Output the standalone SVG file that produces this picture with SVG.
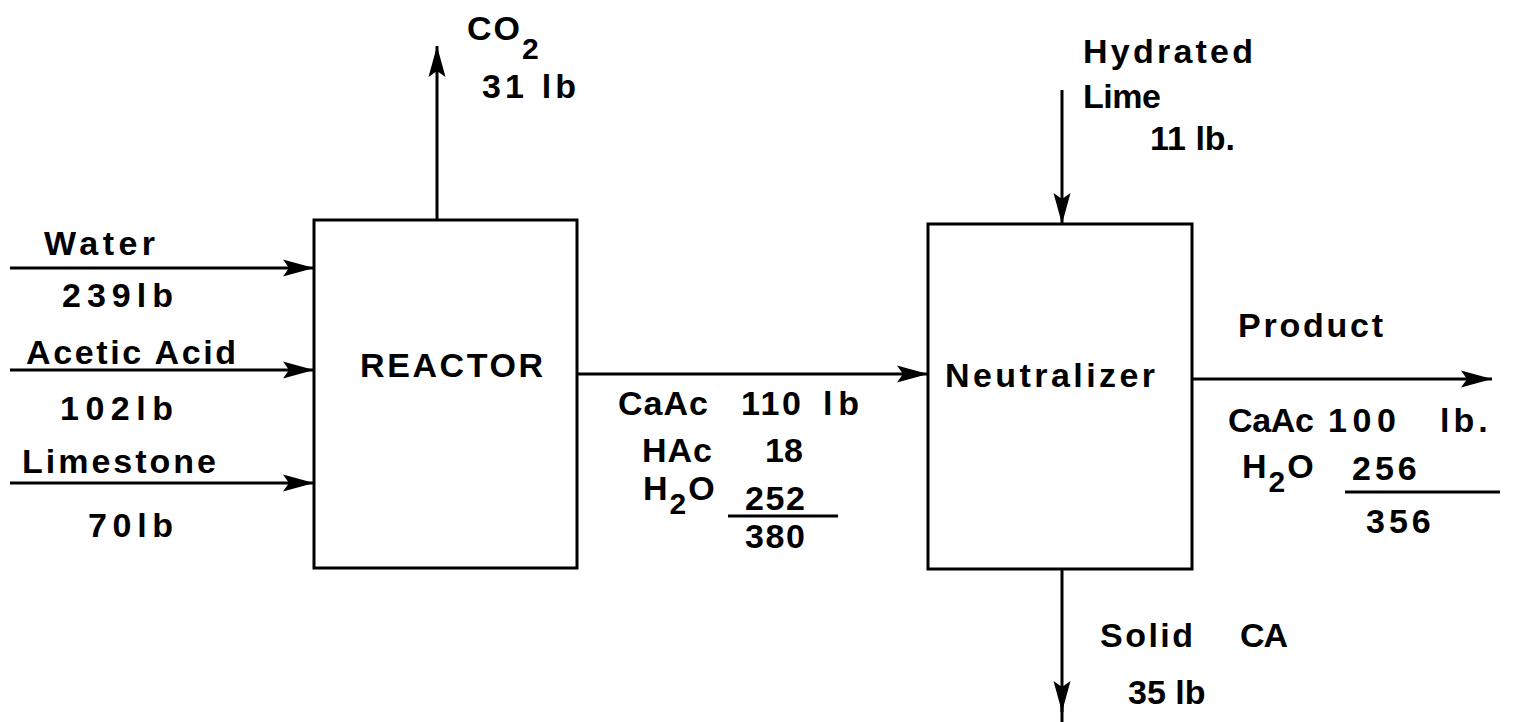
<svg xmlns="http://www.w3.org/2000/svg" width="1515" height="722" viewBox="0 0 1515 722">
<style>
text{font-family:"Liberation Sans",Arial,sans-serif;font-weight:bold;font-size:34px;fill:#000;letter-spacing:2px}
.box{fill:#fff;stroke:#000;stroke-width:3}
.ln{stroke:#000;stroke-width:3;fill:none}
.ar{stroke:#000;stroke-width:3;fill:none;marker-end:url(#ah)}
.sub{font-size:30px}
.tight{letter-spacing:0}
.wide{letter-spacing:4px}
</style>
<defs>
<marker id="ah" markerUnits="userSpaceOnUse" markerWidth="32" markerHeight="20" refX="31" refY="10" orient="auto">
<path d="M0,1.5 L31,10 L0,18.5 L6,10 Z" fill="#000"/>
</marker>
</defs>
<rect width="1515" height="722" fill="#fff"/>
<g id="connectors">
<line class="ar" x1="437" y1="220" x2="437" y2="46"/>
<line class="ar" x1="10" y1="268" x2="314" y2="268"/>
<line class="ar" x1="10" y1="370" x2="314" y2="370"/>
<line class="ar" x1="10" y1="483" x2="314" y2="483"/>
<line class="ar" x1="578" y1="374" x2="928" y2="374"/>
<line class="ar" x1="1062" y1="90" x2="1062" y2="224"/>
<line class="ar" x1="1192" y1="379" x2="1492" y2="379"/>
<line class="ar" x1="1062" y1="569" x2="1062" y2="712"/>
<line class="ln" x1="1062" y1="700" x2="1062" y2="722"/>
</g>
<g id="reactor">
<rect class="box" x="314" y="220" width="263" height="348"/>
<text x="360" y="377" textLength="185" lengthAdjust="spacing">REACTOR</text>
</g>
<g id="neutralizer">
<rect class="box" x="928" y="224" width="264" height="345"/>
<text x="945" y="387" textLength="212" lengthAdjust="spacing">Neutralizer</text>
</g>
<g id="co2-stream">
<text x="467" y="40">CO<tspan class="sub" dy="19">2</tspan></text>
<text x="482" y="98" textLength="96" lengthAdjust="spacing">31 lb</text>
</g>
<g id="water-stream">
<text x="44" y="255" textLength="113" lengthAdjust="spacing">Water</text>
<text x="62" y="307" textLength="113" lengthAdjust="spacing">239lb</text>
</g>
<g id="acid-stream">
<text x="26" y="364" textLength="212" lengthAdjust="spacing">Acetic Acid</text>
<text x="60" y="420" textLength="115" lengthAdjust="spacing">102lb</text>
</g>
<g id="limestone-stream">
<text x="22" y="473" textLength="196" lengthAdjust="spacing">Limestone</text>
<text x="88" y="537" textLength="87" lengthAdjust="spacing">70lb</text>
</g>
<g id="intermediate-stream">
<text x="618" y="415" textLength="92" lengthAdjust="spacing">CaAc</text>
<text x="741" y="415" textLength="62" lengthAdjust="spacing">110</text>
<text x="823" y="415" textLength="38" lengthAdjust="spacing">lb</text>
<text x="642" y="462" textLength="72" lengthAdjust="spacing">HAc</text>
<text x="765" y="462" textLength="40" lengthAdjust="spacing">18</text>
<text x="643" y="500">H<tspan class="sub" dy="14">2</tspan><tspan dy="-14">O</tspan></text>
<text x="745" y="510" textLength="62" lengthAdjust="spacing">252</text>
<line class="ln" x1="728" y1="516" x2="838" y2="516"/>
<text x="745" y="548" textLength="62" lengthAdjust="spacing">380</text>
</g>
<g id="lime-stream">
<text x="1083" y="63" textLength="172" lengthAdjust="spacing">Hydrated</text>
<text x="1083" y="108" textLength="80" lengthAdjust="spacing">Lime</text>
<text class="tight" x="1150" y="150">11 lb.</text>
</g>
<g id="product-stream">
<text x="1238" y="337" textLength="147" lengthAdjust="spacing">Product</text>
<text x="1228" y="432" textLength="88" lengthAdjust="spacing">CaAc</text>
<text x="1328" y="432" textLength="70" lengthAdjust="spacing">100</text>
<text class="wide" x="1440" y="432">lb.</text>
<text x="1242" y="478">H<tspan class="sub" dy="14">2</tspan><tspan dy="-14">O</tspan></text>
<text class="wide" x="1352" y="480">256</text>
<line class="ln" x1="1345" y1="492" x2="1500" y2="492"/>
<text class="wide" x="1366" y="533">356</text>
</g>
<g id="solid-stream">
<text x="1100" y="647" textLength="95" lengthAdjust="spacing">Solid</text>
<text x="1240" y="647" textLength="50" lengthAdjust="spacing">CA</text>
<text class="tight" x="1128" y="704">35 lb</text>
</g>
</svg>
